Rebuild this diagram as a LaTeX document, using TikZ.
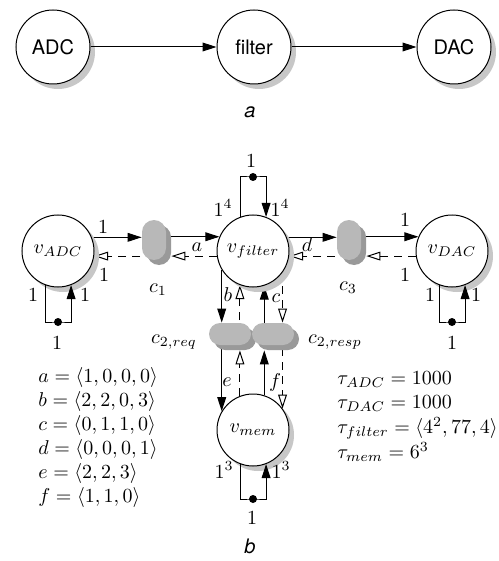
\documentclass[tikz,border=0pt]{standalone}
\usepackage{fontspec}
\newfontfamily\hv{TeX Gyre Heros}
\usetikzlibrary{arrows.meta,shadows}
\pgfdeclarelayer{background}
\pgfsetlayers{background,main}
\begin{document}
\begin{tikzpicture}[x=0.5pt,y=-0.5pt,
  proc/.style={circle, draw, line width=0.5pt, fill=white, minimum size=36pt, inner sep=0pt,
    drop shadow={shadow xshift=2.5pt, shadow yshift=-2.5pt, fill=black!22, opacity=1}},
  chanv/.style={rectangle, rounded corners=6pt, fill=black!28, minimum width=12pt, minimum height=20pt, inner sep=0pt,
    drop shadow={shadow xshift=2.5pt, shadow yshift=-2.5pt, fill=black!40, opacity=1}},
  chanh/.style={rectangle, rounded corners=5.5pt, fill=black!28, minimum width=21pt, minimum height=11pt, inner sep=0pt,
    drop shadow={shadow xshift=2.5pt, shadow yshift=-2.5pt, fill=black!40, opacity=1}},
  tok/.style={circle, fill=black, minimum size=4pt, inner sep=0pt},
  sarr/.style={-{Triangle[length=7pt,width=4.4pt]}, line width=0.5pt},
  darr/.style={-{Triangle[open,length=7pt,width=4.4pt]}, line width=0.5pt, dash pattern=on 4pt off 3pt},
  lbl/.style={inner sep=0pt},
  capt/.style={font=\hv\itshape, inner sep=0pt}
]
\useasboundingbox (0,0) rectangle (498,561);

% ---------- part a ----------
\node[proc, font=\hv, minimum size=37pt] (ADC) at (53,47) {ADC};
\node[proc, font=\hv, minimum size=37pt] (filt) at (254,47) {filter};
\node[proc, font=\hv, minimum size=37pt] (DAC) at (454,47) {DAC};
\draw[sarr] (ADC) -- (filt);
\draw[sarr] (filt) -- (DAC);
\node[capt] (capa) at (250,112) {a};

% ---------- part b ----------
\node[proc] (vA) at (58,251) {$v_{ADC}$};
\node[proc] (vF) at (253,251) {$v_{filter}$};
\node[proc] (vD) at (452,251) {$v_{DAC}$};
\node[proc] (vM) at (253,430) {$v_{mem}$};

\node[chanv] (c1) at (154,240) {};
\node[chanv] (c3) at (349,240) {};
\node[chanh] (c2q) at (230,334) {};
\node[chanh] (c2p) at (273,334) {};

\coordinate (c1r) at ([xshift=2.5pt]c1.east);
\coordinate (c3r) at ([xshift=2.5pt]c3.east);
\coordinate (c2qb) at ([yshift=-2.5pt]c2q.south);
\coordinate (c2pb) at ([yshift=-2.5pt]c2p.south);

\node[tok] (tA) at (58,322) {};
\node[tok] (tD) at (452,322) {};
\node[tok] (tF) at (253,177) {};
\node[tok] (tM) at (253,499) {};

\begin{pgfonlayer}{background}
% horizontal
\draw[sarr] (vA.22.9) -- (vA.22.9 -| c1.west);
\draw[sarr] (c1 |- vF.157.1) -- (vF.157.1);
\draw[darr] (vF.-172) -- (c1r |- vF.-172);
\draw[darr] (c1 |- vA.-8) -- (vA.-8);
\draw[sarr] (vF.22.9) -- (vF.22.9 -| c3.west);
\draw[sarr] (c3 |- vD.157.1) -- (vD.157.1);
\draw[darr] (vD.-172) -- (c3r |- vD.-172);
\draw[darr] (c3 |- vF.-8) -- (vF.-8);
% vertical filter - c2
\draw[sarr] (vF.-149.4) -- (vF.-149.4 |- c2q.north);
\draw[darr] (vF.-111.2 |- c2q) -- (vF.-111.2);
\draw[sarr] (vF.-72.2 |- c2p) -- (vF.-72.2);
\draw[darr] (vF.-36.3) -- (vF.-36.3 |- c2p.north);
% vertical c2 - mem
\draw[sarr] (vM.149.4 |- c2q) -- (vM.149.4);
\draw[darr] (vM.111.2) -- (vM.111.2 |- c2qb);
\draw[sarr] (vM.72.2) -- (vM.72.2 |- c2pb);
\draw[darr] (vM.36.3 |- c2p) -- (vM.36.3);
\end{pgfonlayer}

% self loops
\draw[sarr] (vA.-110.3) |- (tA.center) -| (vA.-69.7);
\draw[sarr] (vD.-110.3) |- (tD.center) -| (vD.-69.7);
\draw[sarr] (vF.110.3) |- (tF.center) -| (vF.69.7);
\draw[sarr] (vM.-110.3) |- (tM.center) -| (vM.-69.7);

% labels
\node[lbl] (l1) at (103,227) {$1$};
\node[lbl] (l2) at (104,275) {$1$};
\node[lbl] (la) at (197,247) {$a$};
\node[lbl] (ld) at (307,245) {$d$};
\node[lbl] (l3) at (405,220) {$1$};
\node[lbl] (l4) at (405,275) {$1$};
\node[lbl] (lc1) at (158,290) {$c_1$};
\node[lbl] (lc3) at (348,288) {$c_3$};
\node[lbl] (lb) at (228,295) {$b$};
\node[lbl] (lc) at (276,298) {$c$};
\node[lbl] (le) at (227,382) {$e$};
\node[lbl] (lf) at (275,382) {$f$};
\node[lbl] (lc2q) at (174,342) {$c_{2,req}$};
\node[lbl] (lc2p) at (335,342) {$c_{2,resp}$};
\node[lbl] (lA1) at (33,295) {$1$};
\node[lbl] (lA2) at (85,295) {$1$};
\node[lbl] (lA3) at (57,343) {$1$};
\node[lbl] (lD1) at (430,295) {$1$};
\node[lbl] (lD2) at (476,295) {$1$};
\node[lbl] (lD3) at (452,343) {$1$};
\node[lbl] (lF1) at (251,161) {$1$};
\node[lbl] (lF2) at (223,208) {$1^4$};
\node[lbl] (lF3) at (280,208) {$1^4$};
\node[lbl] (lM1) at (224,470) {$1^3$};
\node[lbl] (lM2) at (281,470) {$1^3$};
\node[lbl] (lM3) at (252,518) {$1$};

% equations
\node[lbl, anchor=west] (ea) at (38,377) {$a = \langle 1,0,0,0\rangle$};
\node[lbl, anchor=west] (eb) at (38,401) {$b = \langle 2,2,0,3\rangle$};
\node[lbl, anchor=west] (ec) at (38,425) {$c = \langle 0,1,1,0\rangle$};
\node[lbl, anchor=west] (ed) at (38,449) {$d = \langle 0,0,0,1\rangle$};
\node[lbl, anchor=west] (ee) at (38,473) {$e = \langle 2,2,3\rangle$};
\node[lbl, anchor=west] (ef) at (38,497) {$f = \langle 1,1,0\rangle$};

\node[lbl, anchor=west] (ta) at (337,380) {$\tau_{ADC} = 1000$};
\node[lbl, anchor=west] (td) at (337,404) {$\tau_{DAC} = 1000$};
\node[lbl, anchor=west] (tf) at (337,428) {$\tau_{filter} = \langle 4^2,77,4\rangle$};
\node[lbl, anchor=west] (tm) at (337,452) {$\tau_{mem} = 6^3$};

\node[capt] (capb) at (250,546) {b};
\end{tikzpicture}
\end{document}
